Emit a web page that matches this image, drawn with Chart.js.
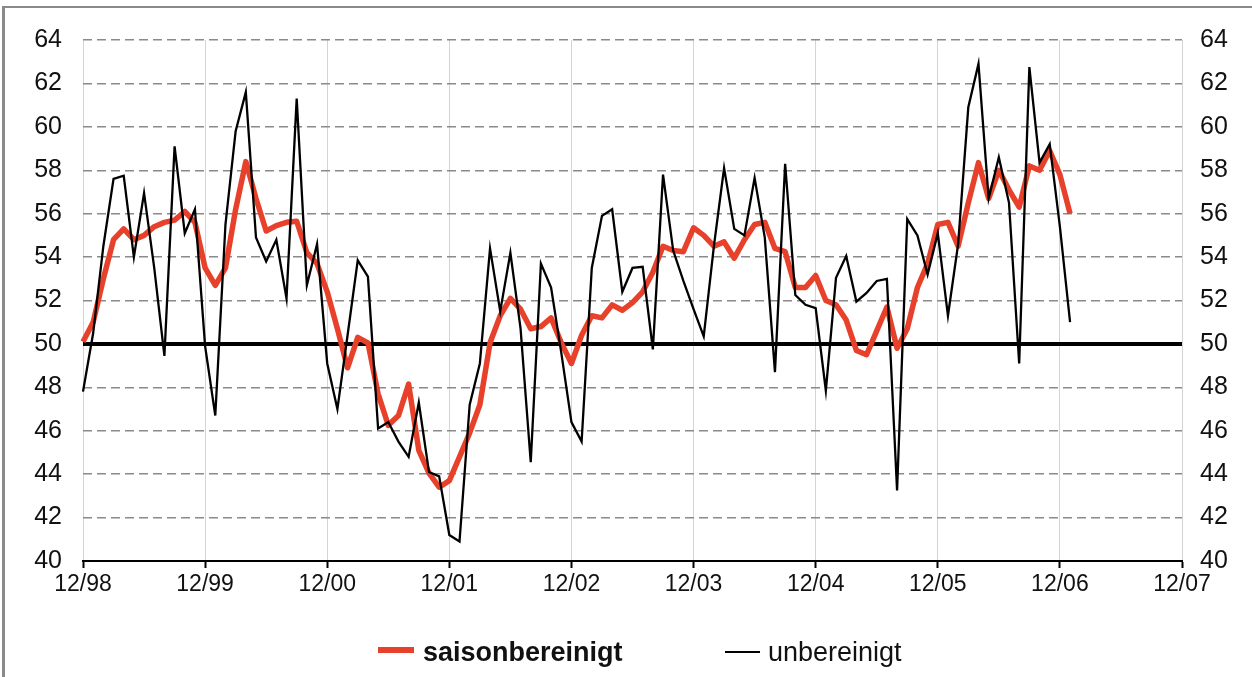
<!DOCTYPE html>
<html>
<head>
<meta charset="utf-8">
<script src="https://cdn.jsdelivr.net/npm/chart.js@4.4.1/dist/chart.umd.min.js"></script>
<style>
  html, body { margin: 0; padding: 0; background: #fff; }
  body { width: 1252px; height: 677px; position: relative; overflow: hidden; font-family: "Liberation Sans", Arial, sans-serif; }
  #frame { position: absolute; left: 2px; top: 6px; width: 1260px; height: 690px; border-top: 2px solid #8a8a8a; border-left: 3px solid #8a8a8a; }
  canvas { position: absolute; left: 0; top: 0; }
  .swatch { position: absolute; }
  .ltxt { position: absolute; font-size: 27px; color: #111; line-height: 32px; white-space: nowrap; }
</style>
</head>
<body>
<div id="frame"></div>
<canvas id="c" width="1252" height="677"></canvas>
<div class="swatch" style="left:378px;top:647px;width:36px;height:6px;background:#e8412b;"></div>
<div class="ltxt" style="left:423px;top:636px;font-weight:bold;">saisonbereinigt</div>
<div class="swatch" style="left:725px;top:651px;width:35px;height:2px;background:#000;"></div>
<div class="ltxt" style="left:768px;top:636px;">unbereinigt</div>
<script>
// ---- data (monthly, Dec 1998 .. Jan 2007) ----
const startYear = 1998;           // first category = 12/1998
const monthCount = 108;           // axis runs 12/98 .. 12/07
const xTickLabels = ['12/98','12/99','12/00','12/01','12/02','12/03','12/04','12/05','12/06','12/07'];
const yTicks = { min: 40, max: 64, step: 2 };
const referenceValue = 50;

const saisonbereinigt = [
  50.1, 51.0, 53.0, 54.8, 55.3, 54.8, 55.0, 55.4, 55.6, 55.7, 56.1, 55.6,
  53.5, 52.7, 53.5, 56.2, 58.4, 56.7, 55.2, 55.45, 55.6, 55.65, 54.2, 53.7,
  52.4, 50.7, 48.9, 50.3, 50.05, 47.7, 46.25, 46.7, 48.15, 45.1, 44.05, 43.4,
  43.7, 44.8, 45.9, 47.2, 50.05, 51.3, 52.1, 51.6, 50.7, 50.8, 51.2, 50.05,
  49.1, 50.4, 51.3, 51.2, 51.8, 51.55, 51.9, 52.4, 53.3, 54.5, 54.3, 54.25,
  55.35, 55.0, 54.5, 54.7, 53.95, 54.8, 55.5, 55.6, 54.4, 54.25, 52.6, 52.6,
  53.15, 52.0, 51.8, 51.1, 49.7, 49.5, 50.6, 51.7, 49.8, 50.7, 52.6, 53.7,
  55.5, 55.6, 54.5, 56.5, 58.35, 56.7, 58.0, 57.1, 56.3, 58.2, 58.0, 58.9,
  57.8, 56.0
];
const unbereinigt = [
  47.8, 50.5, 54.5, 57.6, 57.75, 54.0, 56.95, 53.5, 49.45, 59.1, 55.1, 56.2,
  49.9, 46.7, 55.5, 59.8, 61.6, 54.9, 53.8, 54.8, 52.1, 61.3, 52.7, 54.6,
  49.1, 47.0, 50.4, 53.85, 53.1, 46.1, 46.4, 45.5, 44.8, 47.3, 44.1, 43.9,
  41.2, 40.9, 47.2, 49.1, 54.4, 51.5, 54.2, 50.7, 44.55, 53.7, 52.6, 49.6,
  46.4, 45.5, 53.5, 55.9, 56.2, 52.4, 53.5, 53.55, 49.75, 57.8, 54.3, 52.9,
  51.6, 50.35, 54.5, 58.1, 55.3, 55.0, 57.65, 54.9, 48.7, 58.3, 52.25, 51.8,
  51.65, 47.85, 53.05, 54.05, 51.95, 52.35, 52.9, 53.0, 43.25, 55.75, 55.0, 53.2,
  55.1, 51.3, 54.6, 60.9, 62.9, 56.7, 58.6, 56.5, 49.1, 62.75, 58.35, 59.2,
  55.4, 51.0
];

// month categories MM/YY from 12/98 to 12/07
const categories = [];
for (let k = 0; k <= monthCount; k++) {
  const m = (11 + k) % 12 + 1;
  const y = startYear + Math.floor((11 + k) / 12);
  categories.push(String(m).padStart(2, '0') + '/' + String(y % 100).padStart(2, '0'));
}

const FONT = '"Liberation Sans", Arial, sans-serif';

const refLine = {
  id: 'refLine',
  beforeDatasetsDraw(chart) {
    const { ctx, chartArea: a, scales } = chart;
    const py = scales.y.getPixelForValue(referenceValue);
    ctx.save();
    ctx.strokeStyle = '#000';
    ctx.lineWidth = 4;
    ctx.beginPath();
    ctx.moveTo(a.left, py);
    ctx.lineTo(a.right, py);
    ctx.stroke();
    ctx.restore();
  }
};

new Chart(document.getElementById('c'), {
  type: 'line',
  data: {
    labels: categories,
    datasets: [
      { label: 'unbereinigt', data: unbereinigt, borderColor: '#000', borderWidth: 2.3, pointRadius: 0, tension: 0, order: 0, yAxisID: 'y' },
      { label: 'saisonbereinigt', data: saisonbereinigt, borderColor: '#e8412b', borderWidth: 5.5, pointRadius: 0, tension: 0, order: 1, yAxisID: 'y', borderJoinStyle: 'round' }
    ]
  },
  options: {
    responsive: false,
    animation: false,
    devicePixelRatio: 1,
    layout: { padding: { top: 40, left: 0, right: 0, bottom: 0 } },
    plugins: { legend: { display: false }, tooltip: { enabled: false } },
    scales: {
      x: {
        type: 'category',
        offset: false,
        afterFit: s => { s.height = 116; },
        grid: {
          color: c => (c.index % 12 === 0 ? '#d4d4d4' : 'transparent'),
          lineWidth: 1,
          drawTicks: true,
          tickLength: 7,
          tickWidth: 2,
          tickColor: c => (c.index % 12 === 0 ? '#000' : 'transparent')
        },
        border: { display: true, color: '#000', width: 2 },
        ticks: {
          autoSkip: false, maxRotation: 0, minRotation: 0, padding: 3,
          color: '#111', font: { family: FONT, size: 23 },
          callback: (v, i) => (i % 12 === 0 ? xTickLabels[i / 12] : '')
        }
      },
      y: {
        position: 'left',
        min: yTicks.min, max: yTicks.max,
        afterFit: s => { s.width = 83; },
        ticks: { stepSize: yTicks.step, padding: 21, color: '#111', font: { family: FONT, size: 25 } },
        grid: {
          drawTicks: false,
          lineWidth: 1.5,
          color: c => ((c.tick && (c.tick.value === yTicks.min || c.tick.value === referenceValue)) ? 'transparent' : '#8a8a8a')
        },
        border: { display: false, dash: [9, 5] }
      },
      y2: {
        position: 'right',
        min: yTicks.min, max: yTicks.max,
        afterFit: s => { s.width = 70; },
        ticks: { stepSize: yTicks.step, padding: 18, color: '#111', font: { family: FONT, size: 25 } },
        grid: { drawOnChartArea: false, drawTicks: false },
        border: { display: false }
      }
    }
  },
  plugins: [refLine]
});
</script>
</body>
</html>
